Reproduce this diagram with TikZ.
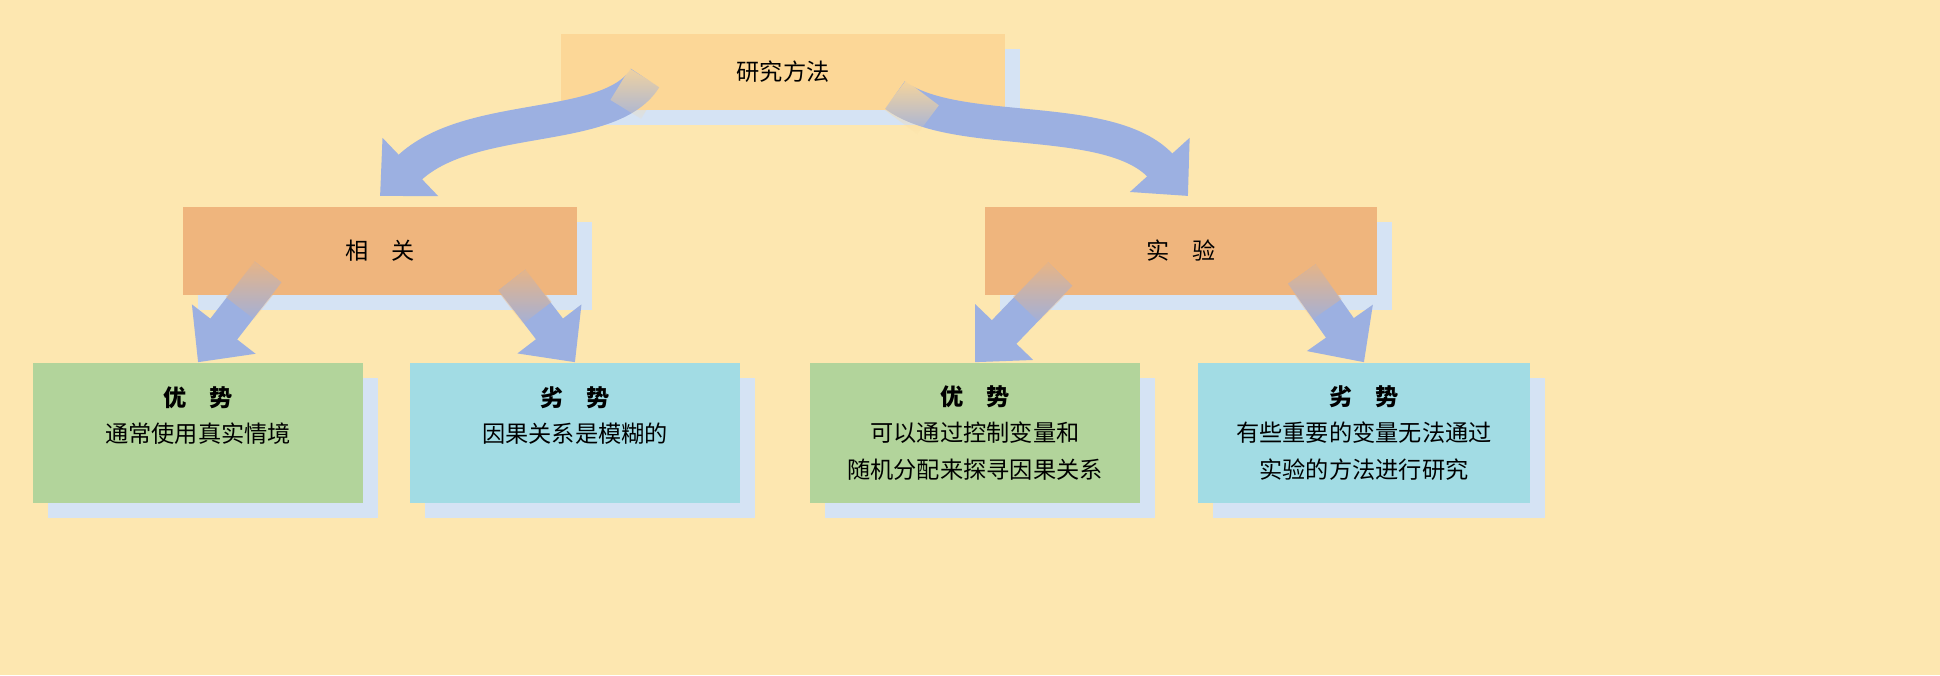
\documentclass[tikz,border=0pt]{standalone}
\usepackage{fontspec}
\setmainfont{Noto Sans CJK SC}
\usetikzlibrary{arrows.meta,shadows,fadings,calc}
\definecolor{bgyellow}{HTML}{FDE7B0}
\definecolor{topfill}{HTML}{FCD797}
\definecolor{midfill}{HTML}{EFB57D}
\definecolor{greenfill}{HTML}{B2D49B}
\definecolor{cyanfill}{HTML}{A2DCE4}
\definecolor{shadowblue}{HTML}{D5E3F4}
\definecolor{arrowblue}{HTML}{9CB0E1}
\tikzfading[name=tailfade, top color=transparent!0, bottom color=transparent!100]
\tikzset{
  box/.style={draw=none, align=center, inner sep=0pt,
    font=\fontsize{6.6}{10.5}\selectfont,
    drop shadow={shadow xshift=0.15cm, shadow yshift=-0.15cm, fill=shadowblue, opacity=1}},
  bigarrow/.style={arrowblue, line width=0.34cm,
    -{Triangle[width=0.78cm, length=0.42cm]}},
  tailglow/.style={line width=0.36cm, path fading=tailfade}
}
\begin{document}
\begin{tikzpicture}[x=0.01cm, y=-0.01cm]
  \fill[bgyellow] (0,0) rectangle (1940,675);
  %%% top level
  \node[box, fill=topfill, minimum width=4.43cm, minimum height=0.75cm] (method) at (783,72) {研究方法};
  %%% second level
  \node[box, fill=midfill, minimum width=3.94cm, minimum height=0.87cm] (corr) at (380,251) {相\quad 关};
  \node[box, fill=midfill, minimum width=3.92cm, minimum height=0.87cm] (expt) at (1181,251) {实\quad 验};
  %%% bottom level
  \node[box, fill=greenfill, minimum width=3.30cm, minimum height=1.40cm] (corrpro) at (198,433)
    {\textbf{优\quad 势}\\通常使用真实情境\\\mbox{}};
  \node[box, fill=cyanfill, minimum width=3.30cm, minimum height=1.40cm] (corrcon) at (575,433)
    {\textbf{劣\quad 势}\\因果关系是模糊的\\\mbox{}};
  \node[box, fill=greenfill, minimum width=3.30cm, minimum height=1.40cm] (exptpro) at (975,433)
    {\textbf{优\quad 势}\\可以通过控制变量和\\随机分配来探寻因果关系};
  \node[box, fill=cyanfill, minimum width=3.32cm, minimum height=1.40cm] (exptcon) at (1364,433)
    {\textbf{劣\quad 势}\\有些重要的变量无法通过\\实验的方法进行研究};
  % arrow ends
  \coordinate (m1) at (645,78);
  \coordinate (m2) at (895,95);
  \coordinate (m1end) at (380,196);
  \coordinate (m2end) at (1188,196);
  \coordinate (c1) at (268,272);
  \coordinate (c2) at (512,280);
  \coordinate (e1) at (1060,274);
  \coordinate (e2) at (1302,274);
  % arrows between levels
  \draw[bigarrow] (m1) .. controls (610,135) and (470,110) .. (m1end);
  \draw[bigarrow] (m2) .. controls (955,140) and (1110,110) .. (m2end);
  \draw[bigarrow] (c1) -- (corrpro.north);
  \draw[bigarrow] (c2) -- (corrcon.north);
  \draw[bigarrow] (e1) -- (exptpro.north);
  \draw[bigarrow] (e2) -- (exptcon.north);
  % tails melt into the boxes
  \draw[tailglow, topfill] (m1) -- ($(m1)!0.55!(610,135)$);
  \draw[tailglow, topfill] (m2) -- ($(m2)!0.55!(955,140)$);
  \draw[tailglow, midfill] (c1) -- ($(c1)!0.4!(corrpro.north)$);
  \draw[tailglow, midfill] (c2) -- ($(c2)!0.4!(corrcon.north)$);
  \draw[tailglow, midfill] (e1) -- ($(e1)!0.4!(exptpro.north)$);
  \draw[tailglow, midfill] (e2) -- ($(e2)!0.4!(exptcon.north)$);
\end{tikzpicture}
\end{document}
